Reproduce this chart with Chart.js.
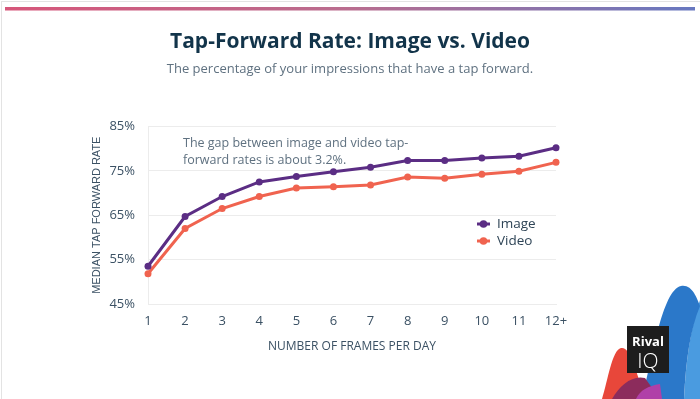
<!DOCTYPE html>
<html>
<head>
<meta charset="utf-8">
<script src="https://cdn.jsdelivr.net/npm/chart.js@4.4.1/dist/chart.umd.min.js"></script>
<style>
  html, body { margin: 0; padding: 0; background: #fff; }
  #wrap { width: 700px; height: 399px; position: relative; }
</style>
</head>
<body>
<div id="wrap"><canvas id="myChart" width="700" height="399"></canvas></div>
<script>
// data
const frames = ['1', '2', '3', '4', '5', '6', '7', '8', '9', '10', '11', '12+'];
const imageRate = [53.5, 64.7, 69.2, 72.5, 73.7, 74.8, 75.8, 77.3, 77.3, 77.9, 78.3, 80.2];
const videoRate = [51.8, 62.0, 66.5, 69.2, 71.1, 71.4, 71.8, 73.6, 73.3, 74.2, 74.9, 76.9];
const yTicks = [45, 55, 65, 75, 85];
const note = ['The gap between image and video tap-', 'forward rates is about 3.2%.'];

const purple = '#5b2d84';
const coral = '#f0634f';
const FONT = "'Open Sans', sans-serif";

// frame, top gradient bar, note, legend and logo
const decor = {
    id: 'decor',
    beforeDraw(chart) {
        const c = chart.ctx;
        c.save();
        c.fillStyle = '#fff';
        c.fillRect(0, 0, chart.width, chart.height);
        c.strokeStyle = '#e3e3e3';
        c.lineWidth = 1;
        c.strokeRect(1.5, 1.5, 720, 420);
        const g = c.createLinearGradient(5, 0, 695, 0);
        g.addColorStop(0, '#d6567a');
        g.addColorStop(0.5, '#b96d8f');
        g.addColorStop(1, '#6778c0');
        c.fillStyle = g;
        c.fillRect(5, 7, 690, 3.5);
        c.restore();
    },
    afterDraw(chart) {
        const c = chart.ctx;
        c.save();
        // note
        c.fillStyle = '#5f7180';
        c.font = '12.5px ' + FONT;
        c.textBaseline = 'middle';
        c.fillText(note[0], 183, 143);
        c.fillText(note[1], 183, 160);

        // legend
        chart.data.datasets.forEach(function(ds, i) {
            const y = 224 + i * 17;
            c.strokeStyle = ds.borderColor;
            c.fillStyle = ds.borderColor;
            c.lineWidth = 3;
            c.beginPath();
            c.moveTo(477, y);
            c.lineTo(490, y);
            c.stroke();
            c.beginPath();
            c.arc(483.5, y, 3.8, 0, Math.PI * 2);
            c.fill();
            c.fillStyle = '#2e4456';
            c.font = '13.5px ' + FONT;
            c.fillText(ds.label, 497, y + 0.5);
        });

        // logo
        c.fillStyle = '#4a9be0';
        c.beginPath();
        c.moveTo(684, 399);
        c.bezierCurveTo(686, 360, 690, 330, 700, 300);
        c.lineTo(700, 399);
        c.closePath();
        c.fill();

        c.fillStyle = '#2b78c9';
        c.beginPath();
        c.moveTo(642, 399);
        c.bezierCurveTo(652, 360, 662, 290, 681, 286);
        c.bezierCurveTo(692, 284, 697, 298, 700, 306);
        c.bezierCurveTo(690, 330, 686, 360, 684, 399);
        c.closePath();
        c.fill();

        c.fillStyle = '#e8473a';
        c.beginPath();
        c.moveTo(602, 399);
        c.bezierCurveTo(608, 380, 612, 350, 621, 348);
        c.bezierCurveTo(630, 346, 636, 370, 645, 399);
        c.closePath();
        c.fill();

        c.fillStyle = '#8c2c5c';
        c.beginPath();
        c.moveTo(612, 399);
        c.bezierCurveTo(620, 385, 632, 375, 645, 378);
        c.lineTo(660, 399);
        c.closePath();
        c.fill();

        c.fillStyle = '#b040a8';
        c.beginPath();
        c.moveTo(636, 399);
        c.bezierCurveTo(640, 390, 648, 386, 660, 384);
        c.lineTo(662, 399);
        c.closePath();
        c.fill();

        c.fillStyle = '#1d1d1d';
        c.fillRect(627, 326, 42, 47);
        c.fillStyle = '#fff';
        c.textAlign = 'center';
        c.font = 'bold 13px ' + FONT;
        c.fillText('Rival', 648, 342);
        c.font = '300 21px ' + FONT;
        c.fillText('IQ', 648, 362);
        c.restore();
    }
};

const ctx = document.getElementById('myChart').getContext('2d');
new Chart(ctx, {
    type: 'line',
    data: {
        labels: frames,
        datasets: [{
            label: 'Image',
            data: imageRate,
            borderColor: purple,
            backgroundColor: purple,
            borderWidth: 3,
            pointRadius: 3.5,
            pointBackgroundColor: purple,
            pointBorderWidth: 0,
            tension: 0
        }, {
            label: 'Video',
            data: videoRate,
            borderColor: coral,
            backgroundColor: coral,
            borderWidth: 3,
            pointRadius: 3.5,
            pointBackgroundColor: coral,
            pointBorderWidth: 0,
            tension: 0
        }]
    },
    options: {
        responsive: false,
        animation: false,
        layout: { padding: 0 },
        scales: {
            x: {
                offset: false,
                grid: { display: false, drawTicks: false },
                border: { display: true, color: '#ececec' },
                ticks: {
                    color: '#3b5164',
                    font: { family: FONT, size: 13 },
                    padding: 9,
                    autoSkip: false,
                    maxRotation: 0
                },
                title: {
                    display: true,
                    text: 'NUMBER OF FRAMES PER DAY',
                    color: '#3b5164',
                    font: { family: FONT, size: 12 },
                    padding: { top: 0, bottom: 45 }
                },
                afterFit(scale) { scale.height = 95; }
            },
            y: {
                min: 45,
                max: 85,
                grid: { color: '#ececec', drawTicks: false },
                border: { display: true, color: '#ececec' },
                afterBuildTicks(scale) {
                    scale.ticks = yTicks.map(function(v) { return { value: v }; });
                },
                ticks: {
                    color: '#3b5164',
                    font: { family: FONT, size: 13 },
                    padding: 13,
                    callback: function(v) { return v + '%'; }
                },
                title: {
                    display: true,
                    text: 'MEDIAN TAP FORWARD RATE',
                    color: '#3b5164',
                    font: { family: "'Liberation Sans', Arial, sans-serif", size: 11 },
                    padding: { top: 90, bottom: 0 }
                },
                afterFit(scale) { scale.width = 148; }
            },
            // empty right-hand spacer so the plot ends where the reference does
            spacer: {
                position: 'right',
                grid: { display: false, drawTicks: false },
                border: { display: false },
                ticks: { display: false },
                afterFit(scale) { scale.width = 144; }
            }
        },
        plugins: {
            legend: { display: false },
            tooltip: { enabled: false },
            title: {
                display: true,
                text: 'Tap-Forward Rate: Image vs. Video',
                color: '#12344a',
                font: { family: FONT, size: 21, weight: 'bold' },
                padding: { top: 29, bottom: 0 }
            },
            subtitle: {
                display: true,
                text: 'The percentage of your impressions that have a tap forward.',
                color: '#5f7180',
                font: { family: FONT, size: 13 },
                padding: { top: 7.6, bottom: 49 }
            }
        }
    },
    plugins: [decor]
});
</script>
</body>
</html>
